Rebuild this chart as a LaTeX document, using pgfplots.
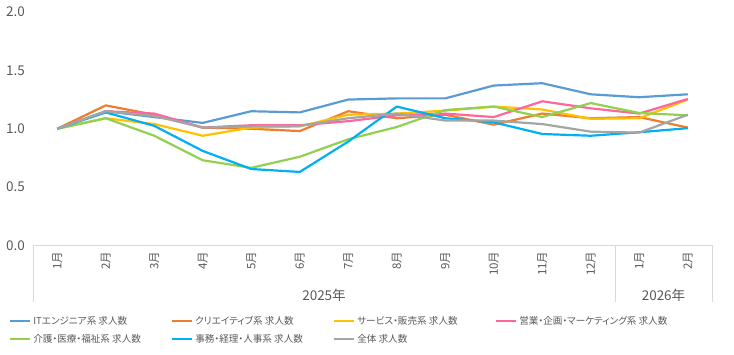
\documentclass[border=0pt]{standalone}
\usepackage{fontspec}
\setmainfont{Liberation Sans}
\newfontfamily\cjk[RawFeature=+palt]{Noto Sans CJK JP}
\usepackage{pgfplots}
\pgfplotsset{compat=1.18}
\definecolor{cIT}{HTML}{5B9BD5}
\definecolor{cCr}{HTML}{ED7D31}
\definecolor{cSv}{HTML}{FFC000}
\definecolor{cSl}{HTML}{FF6699}
\definecolor{cCa}{HTML}{92D050}
\definecolor{cOf}{HTML}{00B0F0}
\definecolor{cAll}{HTML}{A5A5A5}
\definecolor{txt}{HTML}{595959}
\definecolor{frm}{HTML}{D9D9D9}
\newcommand{\legtxt}[1]{\makebox[135.5pt][l]{\fontsize{9.6}{11}\selectfont\cjk #1}}
\begin{document}
\begin{tikzpicture}[x=1pt,y=1pt]
\useasboundingbox (0,0) rectangle (734,355);
\begin{axis}[
  at={(33pt,109.5pt)}, anchor=south west,
  scale only axis, width=679pt, height=233.5pt,
  xmin=-0.5, xmax=13.5, ymin=0, ymax=2,
  clip=false,
  axis line style={draw=none},
  tick style={draw=none},
  xtick={0,...,13},
  xticklabels={1月,2月,3月,4月,5月,6月,7月,8月,9月,10月,11月,12月,1月,2月},
  xticklabel style={font=\fontsize{11.5}{12}\selectfont\cjk, text=txt, rotate=90, anchor=east, inner sep=0pt},
  xticklabel shift=6pt,
  ytick={0,0.5,1,1.5,2},
  yticklabel style={/pgf/number format/.cd, fixed, fixed zerofill, precision=1, assume math mode=true, /tikz/.cd, font=\fontsize{13.5}{15}\selectfont\cjk, text=txt, anchor=east, inner sep=0pt},
  yticklabel shift=8pt,
  every axis plot/.append style={line width=2.2pt, line join=round},
  legend columns=4,
  legend cell align=left,
  legend image code/.code={\draw[#1, line width=2.5pt] (0pt,0pt) -- (20pt,0pt);},
  legend style={at={(axis description cs:-0.036,-0.293)}, anchor=north west, draw=none, fill=none, inner sep=0pt, row sep=4.5pt, column sep=0pt, text=txt},
]
\addplot[cIT] coordinates {(0,1.00)(1,1.15)(2,1.10)(3,1.05)(4,1.15)(5,1.14)(6,1.25)(7,1.26)(8,1.26)(9,1.37)(10,1.39)(11,1.295)(12,1.27)(13,1.295)};
\addlegendentry{\legtxt{ITエンジニア系 求人数}}
\addplot[cCr] coordinates {(0,1.00)(1,1.20)(2,1.12)(3,1.01)(4,1.00)(5,0.98)(6,1.15)(7,1.09)(8,1.12)(9,1.035)(10,1.13)(11,1.09)(12,1.10)(13,1.01)};
\addlegendentry{\legtxt{クリエイティブ系 求人数}}
\addplot[cSv] coordinates {(0,1.00)(1,1.09)(2,1.04)(3,0.94)(4,1.01)(5,1.02)(6,1.12)(7,1.13)(8,1.155)(9,1.19)(10,1.165)(11,1.085)(12,1.09)(13,1.25)};
\addlegendentry{\legtxt{サービス・販売系 求人数}}
\addplot[cSl] coordinates {(0,1.00)(1,1.15)(2,1.13)(3,1.01)(4,1.03)(5,1.03)(6,1.065)(7,1.115)(8,1.13)(9,1.10)(10,1.235)(11,1.175)(12,1.13)(13,1.255)};
\addlegendentry{\legtxt{営業・企画・マーケティング系 求人数}}
\addplot[cCa] coordinates {(0,1.00)(1,1.09)(2,0.94)(3,0.73)(4,0.665)(5,0.76)(6,0.91)(7,1.015)(8,1.16)(9,1.19)(10,1.10)(11,1.22)(12,1.135)(13,1.115)};
\addlegendentry{\legtxt{介護・医療・福祉系 求人数}}
\addplot[cOf] coordinates {(0,1.00)(1,1.14)(2,1.025)(3,0.81)(4,0.655)(5,0.63)(6,0.89)(7,1.19)(8,1.09)(9,1.055)(10,0.955)(11,0.94)(12,0.97)(13,1.005)};
\addlegendentry{\legtxt{事務・経理・人事系 求人数}}
\addplot[cAll] coordinates {(0,1.00)(1,1.15)(2,1.11)(3,1.01)(4,1.02)(5,1.025)(6,1.09)(7,1.13)(8,1.07)(9,1.07)(10,1.04)(11,0.975)(12,0.967)(13,1.12)};
\addlegendentry{\legtxt{全体 求人数}}
% category axis frame
\draw[frm, line width=0.8pt] (axis cs:-0.5,0) -- (axis cs:13.5,0);
\draw[frm, line width=0.8pt] (axis cs:-0.5,0) -- ([yshift=-57pt]axis cs:-0.5,0);
\draw[frm, line width=0.8pt] (axis cs:11.5,0) -- ([yshift=-57pt]axis cs:11.5,0);
\draw[frm, line width=0.8pt] (axis cs:13.5,0) -- ([yshift=-57pt]axis cs:13.5,0);
\node[text=txt, font=\fontsize{13.5}{15}\selectfont\cjk] at ([yshift=-50pt]axis cs:5.5,0) {2025年};
\node[text=txt, font=\fontsize{13.5}{15}\selectfont\cjk] at ([yshift=-50pt]axis cs:12.5,0) {2026年};
\end{axis}
\end{tikzpicture}
\end{document}
